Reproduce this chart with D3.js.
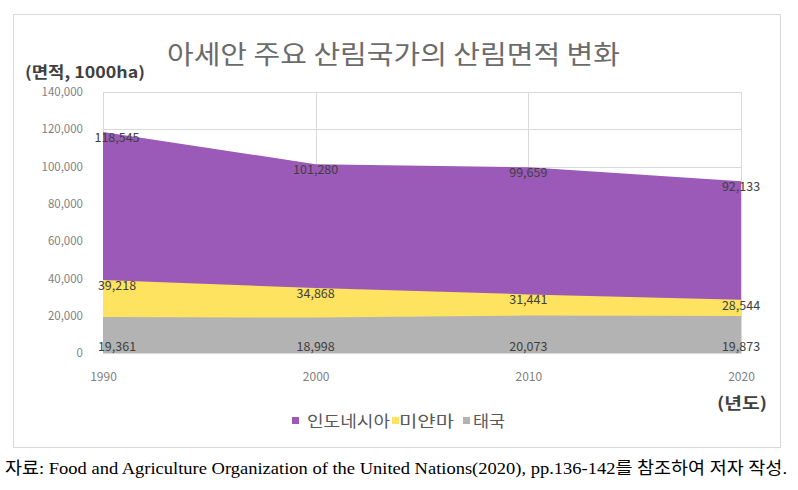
<!DOCTYPE html>
<html><head><meta charset="utf-8">
<script src="https://cdn.jsdelivr.net/npm/d3@7"></script>
<style>body{margin:0;background:#fff}svg{display:block}</style>
</head><body><svg id="c" width="798" height="490"></svg>
<script>
const years = ["1990","2000","2010","2020"];
const indonesia = [118545, 101280, 99659, 92133];
const myanmar = [39218, 34868, 31441, 28544];
const thailand = [19361, 18998, 20073, 19873];
const seriesNames = ["인도네시아","미얀마","태국"];
const yTicks = [0,20000,40000,60000,80000,100000,120000,140000];

const svg = d3.select("#c");
const KR = "'Noto Sans CJK KR','Noto Sans',sans-serif";
svg.append("rect").attr("x",13.5).attr("y",14.5).attr("width",767).attr("height",433)
  .attr("fill","#fff").attr("stroke","#d9d9d9");

const m = {l:103, r:741, t:92, b:353};
const x = d3.scalePoint().domain(years).range([m.l, m.r]);
const y = d3.scaleLinear().domain([0,140000]).range([m.b, m.t]);

// gridlines
svg.append("g").selectAll("line.h").data(yTicks).join("line")
  .attr("x1",m.l).attr("x2",m.r).attr("y1",d=>Math.round(y(d))+0.5).attr("y2",d=>Math.round(y(d))+0.5)
  .attr("stroke","#d9d9d9");
svg.append("g").selectAll("line.v").data(years).join("line")
  .attr("x1",d=>Math.round(x(d))+0.5).attr("x2",d=>Math.round(x(d))+0.5).attr("y1",m.t).attr("y2",m.b)
  .attr("stroke","#d9d9d9");

const series = [
  {name:seriesNames[0], vals:indonesia, color:"#9b59b8"},
  {name:seriesNames[1], vals:myanmar, color:"#fde35f"},
  {name:seriesNames[2], vals:thailand, color:"#b3b3b3"}
];
const area = d3.area().x((d,i)=>x(years[i])).y0(y(0)).y1(d=>y(d));
svg.append("g").selectAll("path").data(series).join("path")
  .attr("d",s=>area(s.vals)).attr("fill",s=>s.color);

// axes
const ya = d3.axisLeft(y).tickValues(yTicks).tickFormat(d3.format(",")).tickSize(0).tickPadding(20);
svg.append("g").attr("transform",`translate(${m.l},0)`).call(ya)
  .call(g=>g.select(".domain").remove())
  .selectAll("text").attr("font-family",KR).attr("font-size",11.5).attr("fill","#7f7f7f");
const xa = d3.axisBottom(x).tickSize(0).tickPadding(19);
svg.append("g").attr("transform",`translate(0,${m.b})`).call(xa)
  .call(g=>g.select(".domain").attr("stroke","#d9d9d9"))
  .selectAll("text").attr("font-family",KR).attr("font-size",12).attr("fill","#7f7f7f");

// data labels
const fmt = d3.format(",");
series.forEach((s,si)=>{
  svg.append("g").selectAll("text").data(s.vals).join("text")
    .attr("x",(d,i)=>x(years[i]) + (i===0?14:0))
    .attr("y",d=> si===2 ? m.b-2 : y(d)+10)
    .attr("text-anchor","middle")
    .attr("font-family",KR).attr("font-size",12.5).attr("fill","#404040")
    .text(d=>fmt(d));
});

// title
svg.append("text").attr("x",167).attr("y",64)
  .attr("font-family",KR).attr("font-size",26).attr("fill","#6b6b6b")
  .attr("textLength",453).attr("lengthAdjust","spacingAndGlyphs")
  .text("아세안 주요 산림국가의 산림면적 변화");
svg.append("text").attr("x",25).attr("y",78)
  .attr("font-family",KR).attr("font-size",15.5).attr("font-weight","bold").attr("fill","#404040")
  .attr("textLength",120).attr("lengthAdjust","spacingAndGlyphs")
  .text("(면적, 1000ha)");
svg.append("text").attr("x",717).attr("y",409)
  .attr("font-family",KR).attr("font-size",16).attr("font-weight","bold").attr("fill","#404040")
  .attr("textLength",50).attr("lengthAdjust","spacingAndGlyphs")
  .text("(년도)");

// legend
const lg = svg.append("g");
const legX = [[292,307,83],[392,399,55],[463,473,32]];
series.forEach((s,i)=>{
  lg.append("rect").attr("x",legX[i][0]).attr("y",417).attr("width",7).attr("height",7).attr("fill",s.color);
  lg.append("text").attr("x",legX[i][1]).attr("y",427)
    .attr("font-family",KR).attr("font-size",16).attr("fill","#595959")
    .attr("textLength",legX[i][2]).attr("lengthAdjust","spacingAndGlyphs").text(s.name);
});

// caption
svg.append("text").attr("x",5).attr("y",474)
  .attr("font-family","'Liberation Serif','Noto Sans CJK KR',serif").attr("font-size",17).attr("fill","#000")
  .attr("textLength",782).attr("lengthAdjust","spacingAndGlyphs")
  .text("자료: Food and Agriculture Organization of the United Nations(2020), pp.136-142를 참조하여 저자 작성.");
</script></body></html>
